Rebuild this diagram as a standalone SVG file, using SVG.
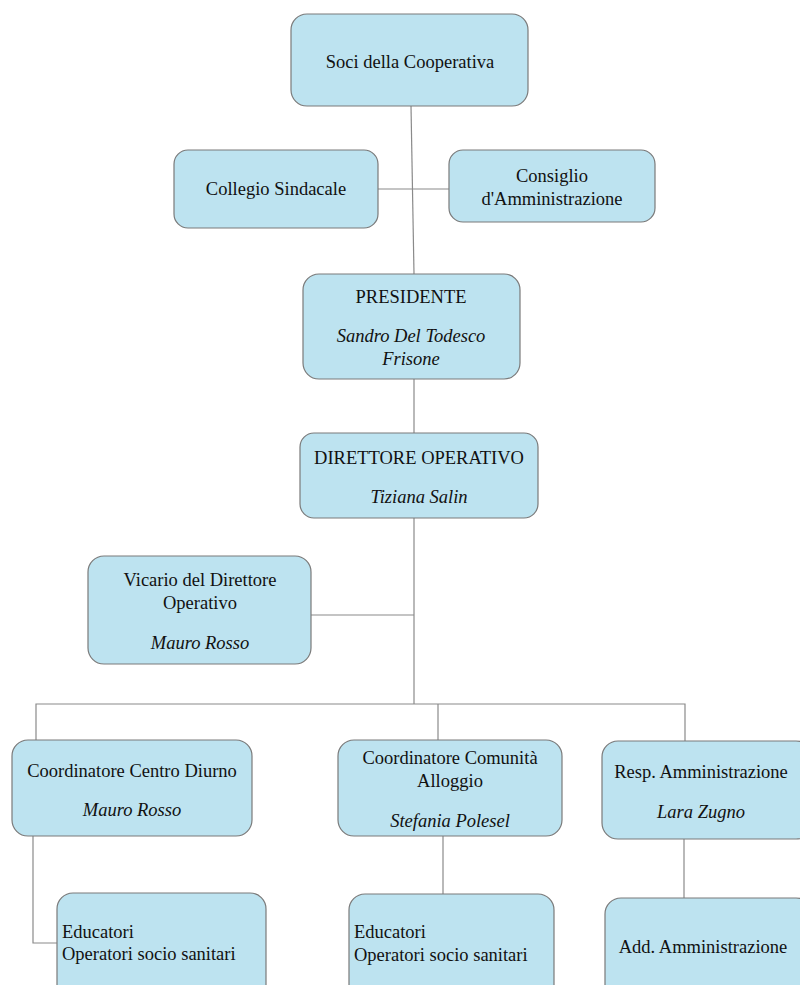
<svg xmlns="http://www.w3.org/2000/svg" width="800" height="985" viewBox="0 0 800 985">
<style>
.box{fill:#bde3f0;stroke:#7a7a7a;stroke-width:1.2}
.t{font-family:"Liberation Serif","Times New Roman",serif;font-size:18.5px;fill:#111;text-anchor:middle}
.l{text-anchor:start}
.i{font-style:italic}
.c{fill:none;stroke:#8a8a8a;stroke-width:1.2}
</style>
<rect width="800" height="985" fill="#fff"/>
<g id="connectors">
<path class="c" d="M411 106 L414 274"/>
<path class="c" d="M378 189 H449"/>
<path class="c" d="M414 379 V433"/>
<path class="c" d="M414 518 V704"/>
<path class="c" d="M311 615 H414"/>
<path class="c" d="M36 740 V704 H685 V741"/>
<path class="c" d="M438 704 V740"/>
<path class="c" d="M33 836 V943 H57"/>
<path class="c" d="M443 836 V894"/>
<path class="c" d="M684 839 V898"/>
</g>
<g id="soci"><rect class="box" x="291" y="14" width="237" height="92" rx="16"/><text class="t" x="410" y="68">Soci della Cooperativa</text></g>
<g id="collegio"><rect class="box" x="174" y="150" width="204" height="78" rx="14"/><text class="t" x="276" y="195">Collegio Sindacale</text></g>
<g id="consiglio"><rect class="box" x="449" y="150" width="206" height="72" rx="14"/><text class="t" x="552" y="182">Consiglio</text><text class="t" x="552" y="205">d'Amministrazione</text></g>
<g id="presidente"><rect class="box" x="303" y="274" width="217" height="105" rx="16"/><text class="t" x="411" y="303">PRESIDENTE</text><text class="t i" x="411" y="342">Sandro Del Todesco</text><text class="t i" x="411" y="365">Frisone</text></g>
<g id="direttore"><rect class="box" x="300" y="433" width="238" height="85" rx="14"/><text class="t" x="419" y="464">DIRETTORE OPERATIVO</text><text class="t i" x="419" y="503">Tiziana Salin</text></g>
<g id="vicario"><rect class="box" x="88" y="556" width="223" height="108" rx="16"/><text class="t" x="200" y="586">Vicario del Direttore</text><text class="t" x="200" y="609">Operativo</text><text class="t i" x="200" y="649">Mauro Rosso</text></g>
<g id="centro-diurno"><rect class="box" x="12" y="740" width="240" height="96" rx="16"/><text class="t" x="132" y="777">Coordinatore Centro Diurno</text><text class="t i" x="132" y="816">Mauro Rosso</text></g>
<g id="comunita"><rect class="box" x="338" y="740" width="224" height="96" rx="16"/><text class="t" x="450" y="764">Coordinatore Comunità</text><text class="t" x="450" y="787">Alloggio</text><text class="t i" x="450" y="827">Stefania Polesel</text></g>
<g id="resp-amm"><rect class="box" x="602" y="741" width="210" height="98" rx="16"/><text class="t" x="701" y="778">Resp. Amministrazione</text><text class="t i" x="701" y="818">Lara Zugno</text></g>
<g id="educatori-1"><rect class="box" x="57" y="893" width="209" height="120" rx="16"/><text class="t l" x="62" y="938">Educatori</text><text class="t l" x="62" y="960">Operatori socio sanitari</text></g>
<g id="educatori-2"><rect class="box" x="349" y="894" width="205" height="120" rx="16"/><text class="t l" x="354" y="938">Educatori</text><text class="t l" x="354" y="961">Operatori socio sanitari</text></g>
<g id="add-amm"><rect class="box" x="605" y="898" width="207" height="120" rx="16"/><text class="t" x="703" y="953">Add. Amministrazione</text></g>
</svg>
